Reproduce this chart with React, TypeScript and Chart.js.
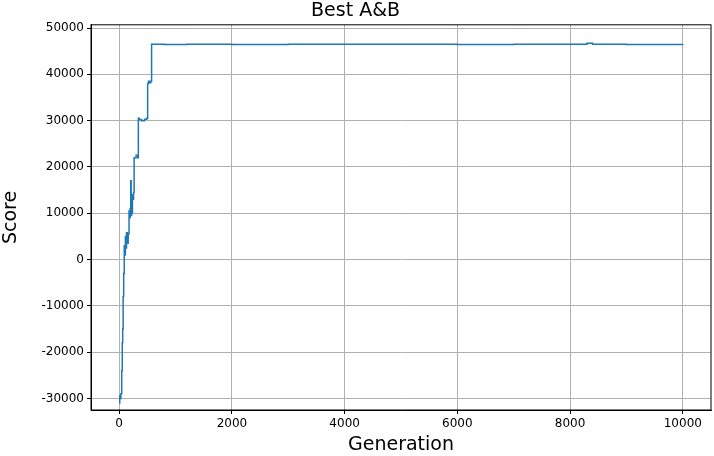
import { useEffect, useRef } from 'react';
import { Chart, registerables } from 'chart.js';

Chart.register(...registerables);

const generations = [0, 10, 20, 30, 45, 55, 62, 70, 80, 90, 100, 110, 120, 130, 145, 160, 175, 185, 195, 205, 212, 220, 235, 245, 255, 265, 275, 300, 330, 340, 360, 400, 450, 490, 505, 520, 540, 560, 575, 800, 1200, 2000, 3000, 4000, 5000, 6000, 7000, 8000, 8300, 8400, 9000, 10000];
const scores = [-31000, -29500, -30000, -29000, -24000, -18000, -15000, -8000, -3000, 3000, 1000, 5000, 2500, 5800, 3500, 5500, 10500, 9000, 11000, 17000, 9500, 10000, 14000, 13000, 14500, 22000, 22000, 22500, 22000, 30500, 30200, 30000, 30300, 30500, 38000, 38500, 38200, 38500, 46500, 46450, 46500, 46450, 46500, 46500, 46500, 46450, 46500, 46500, 46700, 46500, 46450, 46500];
const xTicks = [0, 2000, 4000, 6000, 8000, 10000];
const yTicks = [-30000, -20000, -10000, 0, 10000, 20000, 30000, 40000, 50000];

export default function App() {
  const ref = useRef<HTMLCanvasElement>(null);
  useEffect(() => {
    if (!ref.current) return;
    const chart = new Chart(ref.current, {
      type: 'line',
      data: {
        datasets: [{
          data: generations.map((g, i) => ({ x: g, y: scores[i] })),
          borderColor: '#1f77b4',
          borderWidth: 1.5,
          pointRadius: 0,
          stepped: true,
          fill: false,
        }],
      },
      options: {
        animation: false,
        responsive: false,
        layout: { padding: { right: 3, left: 0, bottom: 0 } },
        plugins: {
          legend: { display: false },
          tooltip: { enabled: false },
          title: { display: true, text: 'Best A&B', color: '#000', font: { family: 'DejaVu Sans', size: 19, weight: 'normal' }, padding: { top: 0, bottom: 2 } },
        },
        scales: {
          x: {
            type: 'linear', min: -500, max: 10500,
            afterBuildTicks: (a: any) => { a.ticks = xTicks.map((v) => ({ value: v })); },
            ticks: { color: '#000', font: { family: 'DejaVu Sans', size: 12 }, maxRotation: 0, callback: (v: any) => String(v) },
            grid: { color: '#b0b0b0', tickColor: '#000', tickLength: 4 },
            border: { color: '#000' },
            title: { display: true, text: 'Generation', color: '#000', font: { family: 'DejaVu Sans', size: 19 }, padding: { top: 2, bottom: 0 } },
            afterFit: (s: any) => { s.height = 46; },
          },
          y: {
            min: -32500, max: 50700,
            afterBuildTicks: (a: any) => { a.ticks = yTicks.map((v) => ({ value: v })); },
            ticks: { color: '#000', font: { family: 'DejaVu Sans', size: 12 }, callback: (v: any) => String(v) },
            grid: { color: '#b0b0b0', tickColor: '#000', tickLength: 4 },
            border: { color: '#000' },
            title: { display: true, text: 'Score', color: '#000', font: { family: 'DejaVu Sans', size: 19 }, padding: 0 },
            afterFit: (s: any) => { s.width = 91; },
          },
        },
      },
      plugins: [{
        id: 'box',
        afterDraw(c: any) {
          const { left, right, top, bottom } = c.chartArea;
          c.ctx.save();
          c.ctx.strokeStyle = '#000';
          c.ctx.lineWidth = 1;
          c.ctx.strokeRect(left, top, right - left, bottom - top);
          c.ctx.restore();
        },
      }],
    });
    return () => chart.destroy();
  }, []);
  return <canvas ref={ref} width={714} height={456} style={{ position: 'absolute', left: 0, top: 0 }} />;
}
